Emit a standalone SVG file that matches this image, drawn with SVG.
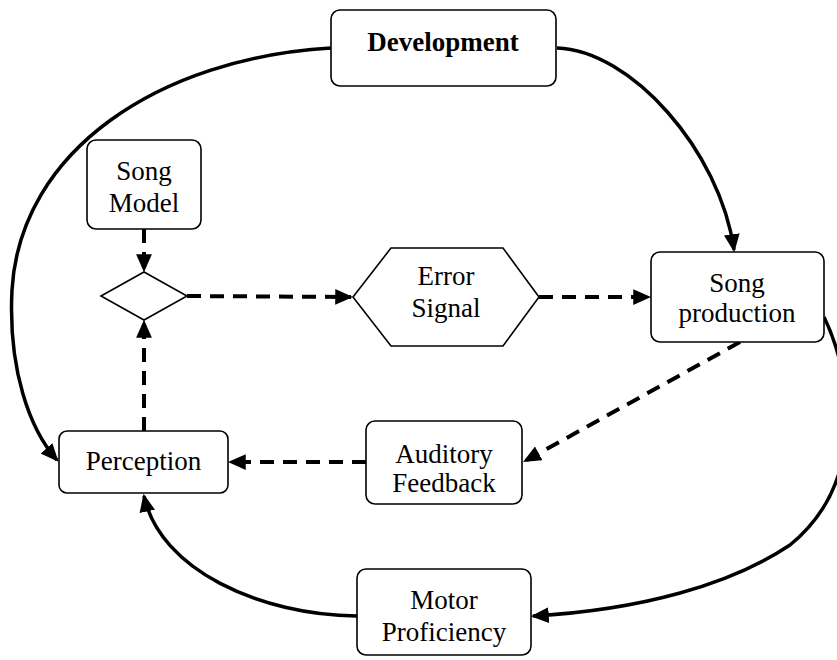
<svg xmlns="http://www.w3.org/2000/svg" width="837" height="660" viewBox="0 0 837 660">
<style>
.box{fill:#fff;stroke:#000;stroke-width:1.6}
.t{font-family:"Liberation Serif","Times New Roman",serif;font-size:27px;fill:#000;text-anchor:middle}
.b{font-weight:bold}
.solid{fill:none;stroke:#000;stroke-width:3.5}
.dash{fill:none;stroke:#000;stroke-width:4;stroke-dasharray:14 9}
</style>
<defs>
<marker id="ah" markerUnits="userSpaceOnUse" markerWidth="18" markerHeight="16" viewBox="0 0 16 14" refX="14" refY="7" orient="auto">
<path d="M0,0 L16,7 L0,14 z" fill="#000"/>
</marker>
</defs>
<rect width="837" height="660" fill="#fff"/>
<g id="connectors">
<path class="solid" d="M331,48 C160,58 20,150 12,290 C8,370 30,430 57,460" marker-end="url(#ah)"/>
<path class="solid" d="M557,48 C630,50 720,150 734,250" marker-end="url(#ah)"/>
<path class="solid" d="M824,317 C850,370 870,480 790,545 C730,585 640,610 533,616" marker-end="url(#ah)"/>
<path class="solid" d="M357,616 C260,615 160,570 144,496" marker-end="url(#ah)"/>
<path class="dash" d="M144,229 L144,270" marker-end="url(#ah)"/>
<path class="dash" d="M144,431 L144,322" marker-end="url(#ah)"/>
<path class="dash" d="M187,296 L351,297" marker-end="url(#ah)"/>
<path class="dash" d="M539,297 L649,297" marker-end="url(#ah)"/>
<path class="dash" d="M740,342 L525,461" marker-end="url(#ah)"/>
<path class="dash" d="M366,462 L230,462" marker-end="url(#ah)"/>
</g>
<g id="development">
<rect class="box" x="331" y="10" width="225" height="76" rx="9"/>
<text class="t b" x="443" y="51">Development</text>
</g>
<g id="song-model">
<rect class="box" x="87" y="140" width="114" height="89" rx="9"/>
<text class="t" x="144" y="180">Song</text>
<text class="t" x="144" y="212">Model</text>
</g>
<g id="comparator">
<polygon class="box" points="101,296 144,272 187,296 144,320"/>
</g>
<g id="error-signal">
<polygon class="box" points="353,297 391,248 503,248 539,297 503,346 391,346"/>
<text class="t" x="446" y="285">Error</text>
<text class="t" x="446" y="317">Signal</text>
</g>
<g id="song-production">
<rect class="box" x="651" y="252" width="173" height="90" rx="9"/>
<text class="t" x="737" y="292">Song</text>
<text class="t" x="737" y="322">production</text>
</g>
<g id="perception">
<rect class="box" x="59" y="431" width="169" height="62" rx="8"/>
<text class="t" x="143.5" y="470">Perception</text>
</g>
<g id="auditory-feedback">
<rect class="box" x="366" y="421" width="156" height="83" rx="9"/>
<text class="t" x="444" y="463">Auditory</text>
<text class="t" x="444" y="492">Feedback</text>
</g>
<g id="motor-proficiency">
<rect class="box" x="357" y="569" width="174" height="86" rx="9"/>
<text class="t" x="444" y="609">Motor</text>
<text class="t" x="444" y="641">Proficiency</text>
</g>
</svg>
